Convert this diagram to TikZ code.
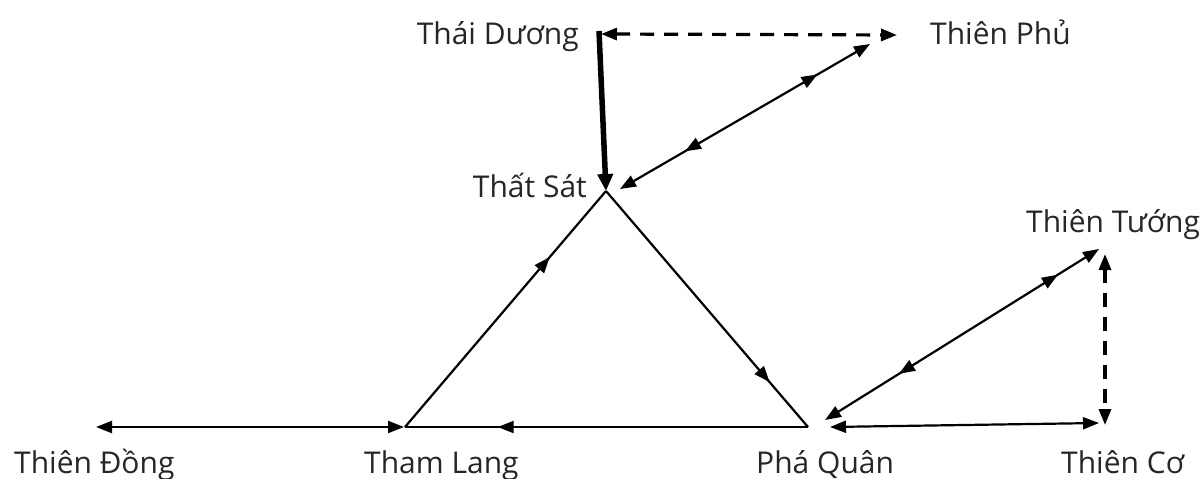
\documentclass[tikz,border=0pt]{standalone}
\usepackage{fontspec}
\setmainfont{Open Sans}
\usetikzlibrary{arrows.meta,decorations.markings}
\tikzset{
  lbl/.style={inner sep=0pt, text=black!85, font=\fontsize{30}{36}\selectfont},
  ahead/.tip={Triangle[length=16pt,width=12pt]},
  dtip/.style={ahead-ahead},
  conn/.style={line width=2.2pt, black},
  dash line/.style={line width=3.2pt, dash pattern=on 14pt off 10pt},
  midfwd/.style={postaction={decorate, decoration={markings,
      mark=at position #1 with {\arrow{ahead}}}}},
  midback/.style={postaction={decorate, decoration={markings,
      mark=at position #1 with {\arrowreversed{ahead}}}}},
}
\begin{document}
\begin{tikzpicture}[x=1pt,y=-1pt]
\useasboundingbox (0,0) rectangle (1200,479);
% coordinates
\coordinate (td) at (601,34);
\coordinate (tdtop) at (599,31);
\coordinate (tpE) at (897,35);
\coordinate (ts) at (606,191);
\coordinate (tl) at (405,427);
\coordinate (pq) at (808,427);
\coordinate (tsA) at (620,189);
\coordinate (tpA) at (870,44);
\coordinate (pqA) at (825,420);
\coordinate (ttA) at (1099,249);
\coordinate (pqB) at (830,427);
\coordinate (tcA) at (1099,423);
\coordinate (ttV) at (1105,254);
\coordinate (tcV) at (1105,425);
\coordinate (tdgA) at (96,427);
\coordinate (tlA) at (404,427);
% labels
\node[lbl, anchor=base east] (nTD) at (579,45) {Thái Dương};
\node[lbl, anchor=base west] (nTP) at (930,45) {Thiên Phủ};
\node[lbl, anchor=base east] (nTS) at (587,197) {Thất Sát};
\node[lbl, anchor=base west] (nTT) at (1026,232) {Thiên Tướng};
\node[lbl, anchor=base west] (nTDg) at (14,473) {Thiên Đồng};
\node[lbl, anchor=base west] (nTL) at (364,473) {Tham Lang};
\node[lbl, anchor=base west] (nPQ) at (756,473) {Phá Quân};
\node[lbl, anchor=base west] (nTC) at (1061,473) {Thiên Cơ};
% connectors
\draw[line width=5.5pt, -{Triangle[length=17pt,width=15pt]}] (tdtop) -- (ts);
\draw[dash line, ahead-ahead] (td) -- (tpE);
\draw[conn, dtip, midfwd=0.79, midback=0.26] (tsA) -- (tpA);
\draw[conn, midfwd=0.72] (tl) -- (ts);
\draw[conn, midfwd=0.81] (ts) -- (pq);
\draw[conn, midfwd=0.77] (pq) -- (tl);
\draw[conn, dtip] (tdgA) -- (tlA);
\draw[conn, dtip, midfwd=0.85, midback=0.27] (pqA) -- (ttA);
\draw[conn, dtip] (pqB) -- (tcA);
\draw[dash line, ahead-ahead] (ttV) -- (tcV);
\end{tikzpicture}
\end{document}
